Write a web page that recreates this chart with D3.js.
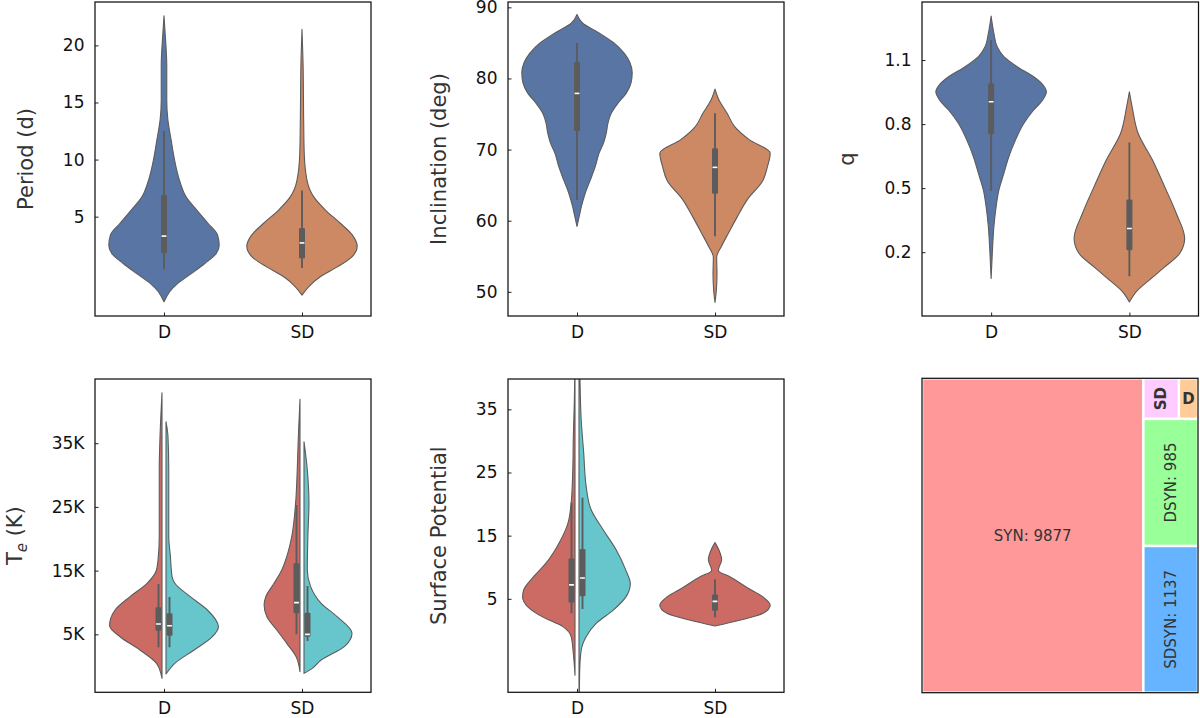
<!DOCTYPE html>
<html><head><meta charset="utf-8">
<script src="https://cdn.jsdelivr.net/npm/d3@7"></script>
<style>
body{margin:0;background:#fff}
svg{display:block;font-family:"DejaVu Sans",sans-serif}
</style>
</head><body>
<svg id="c" width="1200" height="718"></svg>
<script>
// ---------------- DATA ----------------
const categories = ["D", "SD"];

// violin shapes: [value, relative density]
const periodD = [[22.6,0],[21.1,0.02],[18.2,0.05],[15.2,0.05],[13.5,0.07],[11.7,0.13],[10.0,0.19],[8.2,0.28],[6.75,0.4],[5.6,0.59],[4.4,0.8],[3.4,0.97],[2.5,1.0],[1.8,0.95],[0.9,0.74],[0.03,0.5],[-0.84,0.25],[-1.58,0.1],[-2.46,0]];
const periodSD = [[21.4,0],[18.2,0.02],[13.5,0.03],[10.6,0.04],[8.2,0.09],[6.75,0.21],[5.6,0.42],[4.4,0.7],[3.4,0.91],[2.4,1.0],[1.5,0.91],[0.6,0.64],[-0.26,0.33],[-1.14,0.12],[-1.87,0]];
const periodBoxD = [0.4, 1.8, 3.3, 6.9, 12.5];
const periodBoxSD = [0.5, 1.35, 2.7, 4.0, 7.3];
const periodTicks = [5, 10, 15, 20];

const inclD = [[89.0,0],[87.8,0.1],[86.4,0.4],[85.0,0.67],[83.6,0.85],[82.2,0.96],[80.8,1.0],[79.4,0.98],[77.9,0.89],[76.5,0.74],[75.1,0.62],[73.7,0.56],[72.3,0.53],[70.9,0.48],[69.5,0.4],[67.6,0.33],[65.7,0.24],[63.9,0.15],[62.0,0.08],[60.6,0.04],[59.2,0]];
const inclSD = [[78.5,0],[77.0,0.07],[75.1,0.22],[73.2,0.36],[71.4,0.62],[69.5,1.0],[67.6,0.95],[65.7,0.87],[62.9,0.58],[60.5,0.4],[58.2,0.24],[56.3,0.11],[54.9,0.03],[52.5,0.036],[50.2,0.024],[48.5,0]];
const inclBoxD = [62.9, 72.6, 77.9, 82.3, 85.0];
const inclBoxSD = [57.8, 63.8, 67.5, 70.2, 75.1];
const inclTicks = [50, 60, 70, 80, 90];

const qD = [[1.306,0],[1.225,0.05],[1.162,0.11],[1.116,0.23],[1.069,0.47],[1.022,0.77],[0.983,0.94],[0.951,1.0],[0.912,0.93],[0.866,0.77],[0.803,0.59],[0.725,0.44],[0.647,0.32],[0.569,0.23],[0.491,0.14],[0.412,0.09],[0.319,0.05],[0.209,0.024],[0.077,0]];
const qSD = [[0.951,0],[0.881,0.05],[0.756,0.16],[0.631,0.42],[0.506,0.64],[0.381,0.85],[0.264,1.0],[0.194,0.91],[0.131,0.64],[0.069,0.36],[0.022,0.15],[-0.033,0]];
const qBoxD = [0.487, 0.753, 0.905, 0.991, 1.194];
const qBoxSD = [0.087, 0.209, 0.311, 0.447, 0.714];
const qTicks = [0.2, 0.5, 0.8, 1.1];

const teD_red = [[42930,0],[36030,0.036],[30800,0.05],[25560,0.05],[20330,0.05],[17190,0.067],[15100,0.1],[13010,0.27],[10910,0.58],[8820,0.85],[6400,0.95],[4620,0.76],[2540,0.4],[450,0.1],[-1910,0]];
const teD_cyan = [[38380,0],[36030,0.036],[30800,0.05],[25560,0.05],[20330,0.05],[17190,0.08],[14050,0.11],[13010,0.16],[10910,0.44],[8820,0.75],[6200,0.95],[4620,0.84],[2540,0.51],[450,0.16],[-1230,0]];
const teSD_red = [[41890,0],[36030,0.03],[30800,0.05],[25560,0.08],[20330,0.15],[17190,0.24],[15100,0.33],[13010,0.47],[10910,0.62],[9600,0.65],[7770,0.6],[5680,0.42],[3580,0.24],[1490,0.07],[-870,0]];
const teSD_cyan = [[35240,0],[30800,0.06],[25560,0.09],[20330,0.07],[15100,0.06],[12490,0.12],[9870,0.31],[7770,0.6],[5150,0.87],[3060,0.73],[970,0.31],[-340,0.15],[-1130,0]];
const teBoxD_red = [2960, 5570, 6620, 9240, 12900];
const teBoxD_cyan = [2960, 4780, 6350, 8300, 10860];
const teBoxSD_red = [5000, 8300, 9970, 16150, 25300];
const teBoxSD_cyan = [3950, 4630, 5000, 8400, 12600];
const teTicks = [5000, 15000, 25000, 35000];

const spD_red = [[45,0],[36.0,0.013],[30.7,0.03],[25.4,0.04],[20.1,0.07],[16.9,0.13],[13.8,0.29],[10.6,0.53],[8.5,0.75],[6.4,0.93],[5.3,0.95],[3.7,0.85],[2.1,0.58],[0.6,0.22],[-1.0,0.07],[-3.7,0.03],[-7.1,0]];
const spD_cyan = [[45,0.01],[39.8,0.018],[33.3,0.04],[28.1,0.085],[22.8,0.13],[19.1,0.22],[15.9,0.44],[12.8,0.67],[9.5,0.85],[7.4,0.93],[5.3,0.85],[3.2,0.62],[1.1,0.31],[-1.0,0.13],[-3.1,0.04],[-6.3,0.013],[-12,0.005],[-15,0]];
const spSD_red = [[13.9,0],[12.7,0.073],[11.2,0.12],[9.5,0.06],[8.5,0.27],[6.8,0.58],[5.3,0.87],[4.0,1.0],[2.7,0.87],[1.6,0.45],[0.7,0]];
const spBoxD_red = [2.7, 4.4, 7.2, 11.4, 20.2];
const spBoxD_cyan = [3.4, 5.4, 8.3, 12.9, 21.0];
const spBoxSD = [2.1, 3.1, 4.6, 5.7, 8.1];
const spTicks = [5, 15, 25, 35];

const treeNames = ["SYN", "SDSYN", "DSYN", "SD", "D"];
const treeValues = [9877, 1137, 985, 205, 110];

// ---------------- STYLE ----------------
const BLUE = "#5975a4", ORANGE = "#cc8963", RED = "#cc6a64", CYAN = "#66c6cc";
const OUTLINE = "#5c5c5c", BOXC = "#5c5c5c";
const treeColors = {SYN:"#ff9999", SDSYN:"#66b3ff", DSYN:"#99ff99", SD:"#ffccff", D:"#ffcc99"};

const svg = d3.select("#c");
let clipId = 0;

function drawPanel(lay, domain, ticks, fmt, label, violins) {
  const g = svg.append("g").attr("transform", `translate(${lay.x},${lay.y})`);
  const y = d3.scaleLinear().domain(domain).range([lay.h, 0]);
  const x = d3.scalePoint().domain(categories).range([0, lay.w]).padding(0.5);
  const wScale = d3.scaleLinear().domain([0, 1]).range([0, x.step() * 0.4]);
  const id = "clip" + (clipId++);
  g.append("clipPath").attr("id", id).append("rect").attr("width", lay.w).attr("height", lay.h);
  const vg = g.append("g").attr("clip-path", `url(#${id})`);
  const gap = 2, boxOff = 5.5;

  violins.forEach(v => {
    const cx = x(v.cat);
    let x0, x1, bx;
    if (v.side === "left") { x0 = d => cx - gap; x1 = d => cx - gap - wScale(d[1]); bx = cx - boxOff; }
    else if (v.side === "right") { x0 = d => cx + gap; x1 = d => cx + gap + wScale(d[1]); bx = cx + boxOff; }
    else { x0 = d => cx - wScale(d[1]); x1 = d => cx + wScale(d[1]); bx = cx; }
    const area = d3.area().y(d => y(d[0])).x0(x0).x1(x1).curve(d3.curveMonotoneY);
    vg.append("path").attr("d", area(v.shape)).attr("fill", v.color)
      .attr("stroke", OUTLINE).attr("stroke-width", 1.1).attr("stroke-linejoin", "round");
    v.bx = bx;
  });
  violins.forEach(v => {
    const [lo, q1, med, q3, hi] = v.box;
    vg.append("line").attr("x1", v.bx).attr("x2", v.bx).attr("y1", y(hi)).attr("y2", y(lo))
      .attr("stroke", BOXC).attr("stroke-width", 1.9);
    vg.append("rect").attr("x", v.bx - 3).attr("width", 6).attr("y", y(q3)).attr("height", y(q1) - y(q3))
      .attr("rx", 1.2).attr("fill", BOXC);
    vg.append("line").attr("x1", v.bx - 2.4).attr("x2", v.bx + 2.4).attr("y1", y(med)).attr("y2", y(med))
      .attr("stroke", "#fff").attr("stroke-width", 1.6);
  });

  const ya = g.append("g").call(d3.axisLeft(y).tickValues(ticks).tickFormat(fmt).tickSizeInner(-3.5).tickSizeOuter(0).tickPadding(10.5));
  ya.select(".domain").remove();
  ya.selectAll("line").attr("stroke", "#222");
  ya.selectAll("text").attr("font-size", 17).attr("fill", "#111").attr("font-family", "DejaVu Sans");

  const xa = g.append("g").attr("transform", `translate(0,${lay.h})`)
    .call(d3.axisBottom(x).tickSizeInner(-3.5).tickSizeOuter(0).tickPadding(9.5));
  xa.select(".domain").remove();
  xa.selectAll("line").attr("stroke", "#222");
  xa.selectAll("text").attr("font-size", 17).attr("fill", "#111").attr("font-family", "DejaVu Sans");

  let minX = 0;
  ya.selectAll("text").each(function () { const b = this.getBBox(); minX = Math.min(minX, b.x); });
  const lbl = g.append("text").attr("transform", `translate(${minX - 30},${lay.h / 2}) rotate(-90)`)
    .attr("text-anchor", "middle").attr("font-size", 21).attr("fill", "#333");
  label(lbl);

  g.append("rect").attr("width", lay.w).attr("height", lay.h).attr("fill", "none")
    .attr("stroke", "#111").attr("stroke-width", 1.25);
}

const plain = s => t => t.text(s);

drawPanel({x:95, y:2, w:276, h:314}, [-3.7, 23.8], periodTicks, d => d, plain("Period (d)"), [
  {cat:"D", side:"full", color:BLUE, shape:periodD, box:periodBoxD},
  {cat:"SD", side:"full", color:ORANGE, shape:periodSD, box:periodBoxSD}]);

drawPanel({x:508, y:2, w:276, h:314}, [46.6, 90.75], inclTicks, d => d, plain("Inclination (deg)"), [
  {cat:"D", side:"full", color:BLUE, shape:inclD, box:inclBoxD},
  {cat:"SD", side:"full", color:ORANGE, shape:inclSD, box:inclBoxSD}]);

drawPanel({x:922, y:2, w:276.5, h:314}, [-0.099, 1.372], qTicks, d3.format(".1f"), plain("q"), [
  {cat:"D", side:"full", color:BLUE, shape:qD, box:qBoxD},
  {cat:"SD", side:"full", color:ORANGE, shape:qSD, box:qBoxSD}]);

drawPanel({x:95, y:379, w:276, h:313.3}, [-4100, 45080], teTicks, d => (d / 1000) + "K", t => {
    t.append("tspan").text("T");
    t.append("tspan").text("e").attr("font-size", 15).attr("font-style", "italic").attr("dy", 5);
    t.append("tspan").text(" (K)").attr("dy", -5);
  }, [
  {cat:"D", side:"left", color:RED, shape:teD_red, box:teBoxD_red},
  {cat:"D", side:"right", color:CYAN, shape:teD_cyan, box:teBoxD_cyan},
  {cat:"SD", side:"left", color:RED, shape:teSD_red, box:teBoxSD_red},
  {cat:"SD", side:"right", color:CYAN, shape:teSD_cyan, box:teBoxSD_cyan}]);

drawPanel({x:508, y:379, w:276, h:313.3}, [-9.8, 39.8], spTicks, d => d, plain("Surface Potential"), [
  {cat:"D", side:"left", color:RED, shape:spD_red, box:spBoxD_red},
  {cat:"D", side:"right", color:CYAN, shape:spD_cyan, box:spBoxD_cyan},
  {cat:"SD", side:"full", color:RED, shape:spSD_red, box:spBoxSD}]);

// ---------------- TREEMAP ----------------
(function () {
  const lay = {x:922, y:378.3, w:276, h:314.4};
  const leaf = n => ({name: n, value: treeValues[treeNames.indexOf(n)]});
  const data = {children: [leaf("SYN"), {children: [{children: [leaf("SD"), leaf("D")]}, leaf("DSYN"), leaf("SDSYN")]}]};
  const root = d3.hierarchy(data).sum(d => d.value || 0);
  d3.treemap().tile(d3.treemapSliceDice).size([lay.w, lay.h])(root);
  const g = svg.append("g").attr("transform", `translate(${lay.x},${lay.y})`);
  const rotated = new Set(["SD", "DSYN", "SDSYN"]);
  const small = new Set(["SD", "D"]);
  root.leaves().forEach(n => {
    g.append("rect").attr("x", n.x0).attr("y", n.y0).attr("width", n.x1 - n.x0).attr("height", n.y1 - n.y0)
      .attr("fill", treeColors[n.data.name]).attr("stroke", "#fff").attr("stroke-width", 2.4);
    const cx = (n.x0 + n.x1) / 2, cy = (n.y0 + n.y1) / 2;
    const txt = small.has(n.data.name) ? n.data.name : `${n.data.name}: ${n.data.value}`;
    g.append("text").attr("transform", `translate(${cx},${cy})` + (rotated.has(n.data.name) ? " rotate(-90)" : ""))
      .attr("text-anchor", "middle").attr("dominant-baseline", "central")
      .attr("font-size", 15).attr("fill", "#333")
      .attr("font-weight", small.has(n.data.name) ? "bold" : "normal").text(txt);
  });
  g.append("rect").attr("width", lay.w).attr("height", lay.h).attr("fill", "none")
    .attr("stroke", "#111").attr("stroke-width", 1.25);
})();
</script>
</body></html>
